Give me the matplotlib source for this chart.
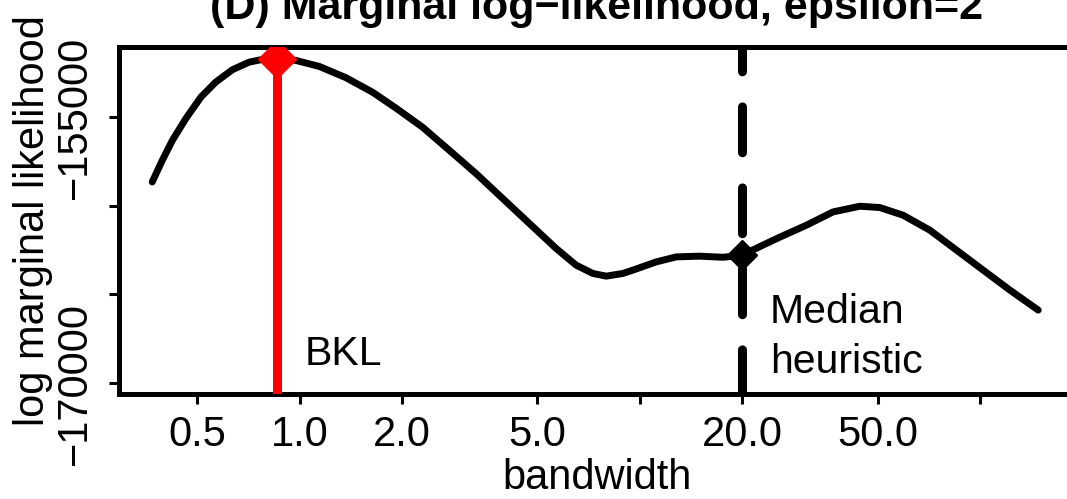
import matplotlib.pyplot as plt

plt.rcParams['font.family'] = ['Liberation Sans', 'DejaVu Sans']
plt.rcParams['lines.scale_dashes'] = False

# curve
bandwidth = [0.369, 0.395, 0.423, 0.463, 0.513, 0.567, 0.635, 0.711, 0.796, 0.861,
             0.975, 1.142, 1.368, 1.638, 1.920, 2.299, 2.754, 3.300, 3.953, 4.734,
             5.673, 6.495, 7.270, 7.960, 8.908, 9.530, 11.17, 12.79, 14.97, 17.53,
             19.86, 23.52, 25.74, 30.84, 36.93, 44.25, 50.67, 59.33, 71.10, 85.18,
             102.0, 122.2, 148.0]
loglik = [-158648, -157425, -156297, -155073, -153855, -153009, -152310, -151882, -151690, -151690,
          -151786, -152124, -152760, -153580, -154480, -155560, -156861, -158175, -159585, -160994,
          -162404, -163346, -163814, -163966, -163814, -163628, -163160, -162878, -162838, -162900,
          -162800, -162122, -161767, -161090, -160340, -160019, -160092, -160526, -161372, -162500,
          -163628, -164755, -165883]

# chosen bandwidths
bkl_bw, bkl_ll = 0.861, -151690
med_bw, med_ll = 20.0, -162800

xticks = [0.5, 1, 2, 5, 10, 20, 50, 100]
xticklabels = ['0.5', '1.0', '2.0', '5.0', '', '20.0', '50.0', '']
yticks = [-155000, -160000, -165000, -170000]
yticklabels = ['\u2212155000', '', '', '\u2212170000']

W, H = 1067, 499
fig = plt.figure(figsize=(W / 100, H / 100), dpi=100)
ax = fig.add_axes([119 / W, 1 - 394 / H, (1075 - 119) / W, (394 - 46.5) / H])
ax.set_xscale('log')
ax.set_xlim(0.2947, 189.8)
ax.set_ylim(-170620, -151000)

ax.plot(bandwidth, loglik, color='black', lw=5, solid_capstyle='round',
        solid_joinstyle='round', zorder=2)

# BKL line + marker
ax.vlines(bkl_bw, -172000, bkl_ll, color='red', lw=6.5, zorder=3)
ax.plot(bkl_bw, bkl_ll, 'D', color='red', ms=19, zorder=4)

# median heuristic dashed line + marker
ax.plot([med_bw, med_bw], [-151000, -172000], color='black', lw=6.5,
        linestyle=(15.5, (33, 25.3)), dash_capstyle='round', zorder=3)
ax.plot(med_bw, med_ll, 'D', color='black', ms=15, zorder=4)

ax.text(1.034, -168985, 'BKL', fontsize=29.5, va='baseline', ha='left')
ax.text(24.1, -166616, 'Median', fontsize=29.5, va='baseline', ha='left')
ax.text(24.1, -169436, 'heuristic', fontsize=29.5, va='baseline', ha='left')

ax.set_xticks(xticks)
ax.set_xticklabels(xticklabels)
ax.minorticks_off()
ax.set_yticks(yticks)
ax.set_yticklabels(yticklabels, rotation=90, va='center')

ax.tick_params(axis='both', width=2.2, length=7, labelsize=30, direction='out')
ax.tick_params(axis='x', pad=8)
ax.tick_params(axis='y', pad=10)
for s in ax.spines.values():
    s.set_linewidth(3.6)

ax.set_xlabel('bandwidth', fontsize=30, labelpad=2)
ax.set_ylabel('log marginal likelihood', fontsize=30, labelpad=2)
ax.set_title('(D) Marginal log\u2212likelihood, epsilon=2', fontsize=31,
             fontweight='bold', pad=19.5)

fig.savefig('out.png', dpi=100)
